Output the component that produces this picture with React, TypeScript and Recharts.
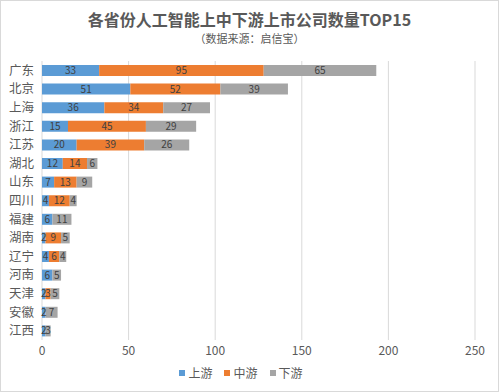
import React from "react";
import {
  BarChart,
  Bar,
  XAxis,
  YAxis,
  CartesianGrid,
  Legend,
  LabelList,
} from "recharts";

const provinces = ["广东", "北京", "上海", "浙江", "江苏", "湖北", "山东", "四川", "福建", "湖南", "辽宁", "河南", "天津", "安徽", "江西"];
const upstream = [33, 51, 36, 15, 20, 12, 7, 4, 6, 2, 4, 6, 2, 2, 2];
const midstream = [95, 52, 34, 45, 39, 14, 13, 12, 0, 9, 6, 0, 3, 0, 0];
const downstream = [65, 39, 27, 29, 26, 6, 9, 4, 11, 5, 4, 5, 5, 7, 3];
const xTicks = [0, 50, 100, 150, 200, 250];
const seriesNames = ["上游", "中游", "下游"];
const seriesColors = ["#5B9BD5", "#ED7D31", "#A5A5A5"];

const data = provinces.map((p, i) => ({
  name: p,
  up: upstream[i],
  mid: midstream[i],
  down: downstream[i],
}));

const font = '"Noto Sans CJK SC", "Noto Sans", sans-serif';
const hideZero = (v: any) => (Number(v) === 0 ? "" : v);

const LegendBox = () => (
  <div style={{ display: "flex", justifyContent: "center", gap: 12, fontSize: 12, color: "#595959", fontFamily: font }}>
    {seriesNames.map((n, i) => (
      <span key={n} style={{ display: "flex", alignItems: "center" }}>
        <span style={{ width: 6, height: 6, background: seriesColors[i], marginRight: 3, display: "inline-block" }} />
        {n}
      </span>
    ))}
  </div>
);

export default function App() {
  return (
    <div
      style={{
        position: "absolute",
        left: 0,
        top: 0,
        width: 497,
        height: 390,
        border: "1px solid #d9d9d9",
        background: "#fff",
        fontFamily: font,
      }}
    >
      <div
        style={{
          position: "absolute",
          top: 6,
          width: "100%",
          textAlign: "center",
          fontSize: 16,
          fontWeight: "bold",
          color: "#595959",
        }}
      >
        各省份人工智能上中下游上市公司数量TOP15
      </div>
      <div
        style={{
          position: "absolute",
          top: 29,
          width: "100%",
          textAlign: "center",
          fontSize: 11,
          color: "#595959",
        }}
      >
        （数据来源：启信宝）
      </div>
      <BarChart
        width={497}
        height={390}
        data={data}
        layout="vertical"
        margin={{ top: 60, right: 23, left: 6, bottom: 10 }}
        barSize={11}
      >
        <CartesianGrid horizontal={false} stroke="#d9d9d9" />
        <XAxis
          type="number"
          domain={[0, 250]}
          ticks={xTicks}
          axisLine={false}
          tickLine={false}
          tick={{ fill: "#595959", fontSize: 12, fontFamily: font }}
          tickMargin={0}
          height={24}
        />
        <YAxis
          type="category"
          dataKey="name"
          width={35}
          interval={0}
          axisLine={false}
          tickLine={false}
          tick={{ fill: "#595959", fontSize: 12.5, fontFamily: font }}
        />
        <Legend verticalAlign="bottom" content={LegendBox} />
        <Bar dataKey="up" name="上游" stackId="a" fill={seriesColors[0]} isAnimationActive={false}>
          <LabelList dataKey="up" position="center" formatter={hideZero} fill="#404040" fontSize={10} />
        </Bar>
        <Bar dataKey="mid" name="中游" stackId="a" fill={seriesColors[1]} isAnimationActive={false}>
          <LabelList dataKey="mid" position="center" formatter={hideZero} fill="#404040" fontSize={10} />
        </Bar>
        <Bar dataKey="down" name="下游" stackId="a" fill={seriesColors[2]} isAnimationActive={false}>
          <LabelList dataKey="down" position="center" formatter={hideZero} fill="#404040" fontSize={10} />
        </Bar>
      </BarChart>
    </div>
  );
}
